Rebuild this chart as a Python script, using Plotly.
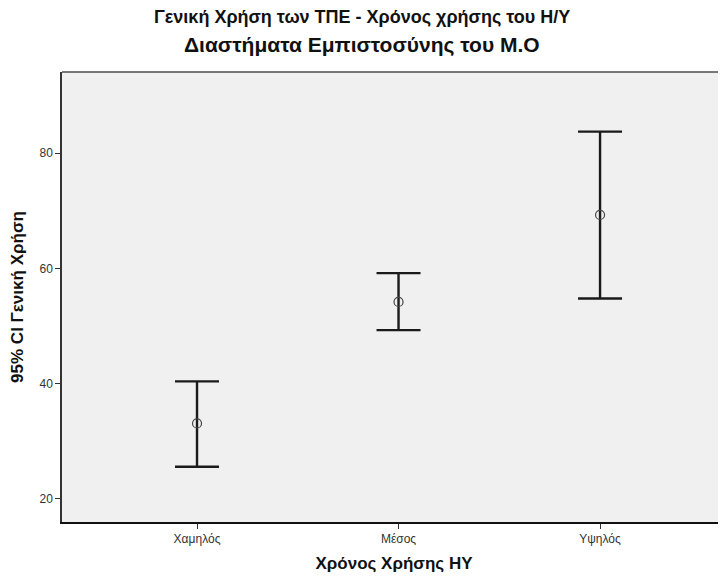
import plotly.graph_objects as go

categories = ["Χαμηλός", "Μέσος", "Υψηλός"]
means = [33.1, 54.2, 69.3]
upper = [40.4, 59.2, 83.75]
lower = [25.6, 49.3, 54.8]
y_ticks = [20, 40, 60, 80]

x_pos = list(range(len(categories)))
err_plus = [u - m for u, m in zip(upper, means)]
err_minus = [m - l for m, l in zip(means, lower)]

fig = go.Figure()
fig.add_trace(go.Scatter(
    x=x_pos, y=means, mode="markers",
    marker=dict(symbol="circle-open", size=9, color="#444444", line=dict(width=1.2)),
    error_y=dict(type="data", symmetric=False, array=err_plus, arrayminus=err_minus,
                 color="#1a1a1a", thickness=2.4, width=22),
    showlegend=False, hoverinfo="skip",
))

font_family = "Liberation Sans, Arial, sans-serif"

# page body has an 8px margin: figure origin sits at (8, 8)
fig.update_layout(
    width=718, height=568,
    margin=dict(l=54, r=0, t=64, b=54),
    paper_bgcolor="white", plot_bgcolor="#f0f0f0",
    font=dict(family=font_family, color="#333333"),
    xaxis=dict(
        range=[-0.67, 2.625], tickmode="array", tickvals=x_pos, ticktext=categories,
        showgrid=False, zeroline=False, showline=True, linecolor="#111111", linewidth=1.5,
        mirror=False, ticks="outside", ticklen=5, tickcolor="#333333", tickwidth=1,
        tickfont=dict(size=12, color="#333333"), automargin=False,
        title=dict(text="<b>Χρόνος Χρήσης ΗΥ</b>", font=dict(size=17, color="#111111"), standoff=12),
    ),
    yaxis=dict(
        range=[16.0, 94.1], tickmode="array", tickvals=y_ticks,
        showgrid=False, zeroline=False, showline=True, linecolor="#333333", linewidth=1.5,
        ticks="outside", ticklen=5, tickcolor="#333333", tickwidth=1,
        tickfont=dict(size=12, color="#333333"), automargin=False,
        title=dict(text="<b>95% CI Γενική Χρήση</b>", font=dict(size=17, color="#111111"), standoff=14),
    ),
    shapes=[dict(type="line", xref="paper", yref="paper", x0=0, x1=1, y0=1, y1=1,
                 line=dict(color="#777777", width=2))],
    annotations=[
        dict(text="<b>Γενική Χρήση των ΤΠΕ - Χρόνος χρήσης του Η/Υ</b>", xref="paper", yref="paper",
             x=0.452, y=1, yshift=55, xanchor="center", yanchor="middle", showarrow=False,
             font=dict(size=18, color="#111111", family=font_family)),
        dict(text="<b>Διαστήματα Εμπιστοσύνης του Μ.Ο</b>", xref="paper", yref="paper",
             x=0.452, y=1, yshift=27, xanchor="center", yanchor="middle", showarrow=False,
             font=dict(size=21, color="#111111", family=font_family)),
    ],
)

fig.write_html("out.html")
